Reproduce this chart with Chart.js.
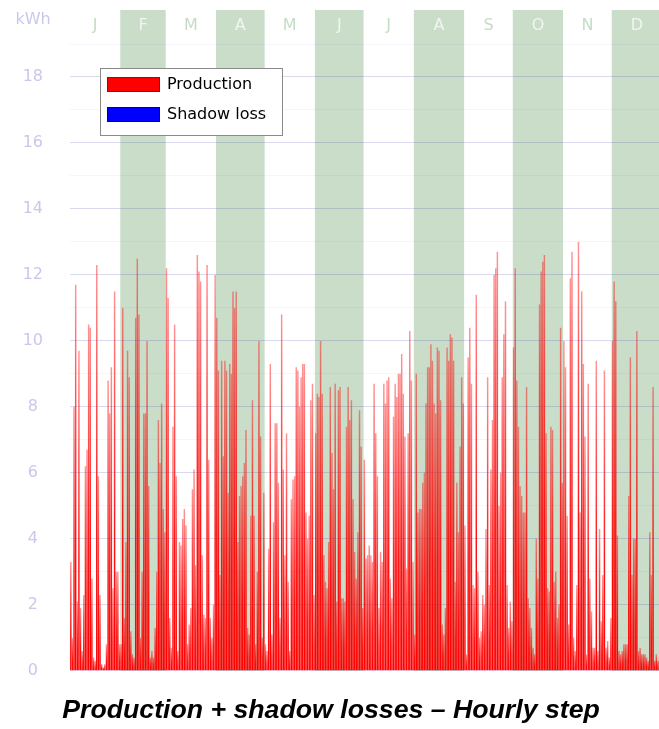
<!DOCTYPE html>
<html>
<head>
<meta charset="utf-8">
<script src="https://cdn.jsdelivr.net/npm/chart.js@4.4.1/dist/chart.umd.min.js"></script>
<style>
  html, body { margin: 0; padding: 0; overflow: hidden; background: #fff; }
  #wrap { width: 662px; height: 729px; position: relative; }
</style>
</head>
<body>
<div id="wrap"><canvas id="c"></canvas></div>
<script>
// Daily production peaks (kWh), one array per month
const jan = [3.3,1.0,8.0,11.7,2.1,9.7,1.9,0.6,2.3,6.2,6.7,10.5,10.4,2.8,0.4,0.3,12.3,5.9,2.3,0.2,0.1,0.2,0.8,8.8,7.8,9.2,2.5,11.5,3.0,3.0,0.8];
const feb = [0.8,11.0,1.6,3.9,9.7,8.9,1.2,0.5,0.4,10.7,12.5,10.8,1.0,3.0,7.8,7.8,10.0,5.6,0.4,0.6,0.4,1.3,3.0,7.6,6.3,8.1,4.9,4.2];
const mar = [12.2,11.3,1.6,0.7,7.4,10.5,5.9,0.6,3.9,3.8,4.6,4.9,4.4,0.8,1.4,1.9,5.5,6.1,3.2,12.6,12.1,11.8,3.5,1.7,1.6,12.3,6.4,1.6,1.0,2.0,12.0];
const apr = [10.7,9.1,2.9,9.4,6.5,9.4,9.1,5.4,9.3,9.0,11.5,11.0,11.5,3.9,5.3,5.6,5.9,6.3,7.3,1.3,1.1,4.7,8.2,4.7,0.8,3.0,10.0,7.1,1.0,5.4];
const may = [0.8,0.6,3.7,9.3,1.1,4.5,7.5,7.5,5.7,1.6,10.8,6.1,3.5,7.2,2.7,0.6,5.2,5.8,5.9,9.2,9.1,8.0,8.9,9.3,9.3,4.8,4.0,4.7,8.2,8.7,2.3];
const jun = [7.2,8.4,8.3,10.0,8.4,3.5,2.7,2.5,3.9,8.6,6.6,5.5,8.7,2.1,8.5,8.6,2.2,2.2,2.1,7.4,8.6,7.6,8.2,5.2,3.6,2.8,4.2,7.9,6.8,1.9];
const jul = [6.4,3.4,3.5,3.8,3.5,3.3,8.7,7.2,5.9,1.9,3.6,3.3,8.7,8.1,8.8,8.9,2.8,2.2,7.7,8.7,8.3,9.0,9.0,9.6,8.4,7.1,3.1,7.2,10.3,8.8,3.3];
const aug = [1.1,9.0,4.8,4.9,4.9,5.7,6.0,8.1,9.2,9.2,9.9,9.4,8.1,7.8,9.8,9.7,8.2,1.4,1.1,1.9,9.8,9.4,10.2,10.1,9.4,2.7,5.7,4.2,6.8,8.9,8.1];
const sep = [4.4,0.5,9.5,10.4,8.7,2.6,2.5,11.4,3.0,1.0,1.2,2.3,2.0,4.3,8.9,2.6,6.1,7.6,12.0,12.2,12.7,5.0,6.0,8.9,10.2,11.2,2.6,1.3,2.1,1.5];
const oct = [9.8,12.2,8.8,7.4,5.6,5.3,4.8,4.8,8.6,2.2,1.9,1.3,0.7,0.5,4.0,2.8,11.1,12.1,12.4,12.6,7.2,2.5,2.4,7.4,7.3,2.7,3.0,1.6,2.0,10.4,5.7];
const nov = [10.0,9.2,4.7,1.4,11.9,12.7,1.0,0.6,2.6,13.0,4.8,11.5,9.3,7.1,0.5,8.7,2.8,1.8,0.7,0.7,9.4,0.6,4.3,1.5,2.9,9.1,0.7,0.9,0.4,1.6];
const dec = [10.0,11.8,11.2,4.1,0.6,0.5,0.6,0.8,0.8,0.8,5.3,9.5,2.9,4.0,4.0,10.3,0.6,0.7,0.5,0.5,0.5,0.4,0.3,4.2,2.9,8.6,0.3,0.5,0.3,0.4,0.3];

// No shading losses occur in this simulation
const shadowLoss = [];

const monthLabels = ['J','F','M','A','M','J','J','A','S','O','N','D'];
const yTickValues = [0,2,4,6,8,10,12,14,16,18];
const yMax = 19;
const unitLabel = 'kWh';
const titleText = 'Production + shadow losses \u2013 Hourly step';
const seriesNames = ['Production', 'Shadow loss'];

const monthly = [jan, feb, mar, apr, may, jun, jul, aug, sep, oct, nov, dec];
const production = monthly.flat();
const dayIndex = production.map((_, i) => i);

const BAND = 'rgb(201,221,201)';
const TICK_COLOR = 'rgb(200,200,236)';

// Alternating month bands, month letters and the unit label
const bandsPlugin = {
  id: 'monthBands',
  beforeDraw(chart) {
    const { ctx, chartArea, scales } = chart;
    const x = scales.x;
    const slot = (x.right - x.left) / production.length;
    let start = 0;
    ctx.save();
    ctx.font = '16px "DejaVu Sans"';
    ctx.textAlign = 'center';
    ctx.textBaseline = 'middle';
    monthly.forEach((m, i) => {
      const x0 = x.left + start * slot;
      const x1 = x.left + (start + m.length) * slot;
      const shaded = i % 2 === 1;
      if (shaded) {
        ctx.fillStyle = BAND;
        ctx.fillRect(x0, 10, x1 - x0, chartArea.bottom - 10);
      }
      ctx.fillStyle = shaded ? 'rgb(240,246,240)' : 'rgb(198,220,198)';
      ctx.fillText(monthLabels[i], (x0 + x1) / 2, 26);
      start += m.length;
    });
    ctx.fillStyle = TICK_COLOR;
    ctx.fillText(unitLabel, 33, 20);
    ctx.restore();
  }
};

// Boxed legend inside the plot
const legendPlugin = {
  id: 'boxLegend',
  afterDraw(chart) {
    const { ctx } = chart;
    ctx.save();
    ctx.fillStyle = '#fff';
    ctx.fillRect(100.5, 68.5, 182, 67);
    ctx.strokeStyle = '#8a8a8a';
    ctx.lineWidth = 1;
    ctx.strokeRect(100.5, 68.5, 182, 67);
    const items = chart.data.datasets;
    ctx.font = '16px "DejaVu Sans"';
    ctx.textAlign = 'left';
    ctx.textBaseline = 'middle';
    items.forEach((ds, i) => {
      const y = 77.5 + i * 30;
      ctx.fillStyle = ds.legendColor;
      ctx.fillRect(107.5, y, 52, 14);
      ctx.strokeStyle = ds.legendBorder;
      ctx.strokeRect(107.5, y, 52, 14);
      ctx.fillStyle = '#000';
      ctx.fillText(ds.label, 167, y + 7.5);
    });
    ctx.restore();
  }
};

function barFill(context) {
  const chart = context.chart;
  if (!chart.chartArea) return 'rgba(255,0,0,0.7)';
  const y = chart.scales.y;
  const v = context.raw || 0;
  const bottom = y.getPixelForValue(0);
  const top = y.getPixelForValue(v);
  if (bottom - top < 1) return 'rgba(255,0,0,1)';
  const g = chart.ctx.createLinearGradient(0, bottom, 0, top);
  g.addColorStop(0, 'rgba(255,0,0,1)');
  g.addColorStop(0.35, 'rgba(255,0,0,0.92)');
  g.addColorStop(0.7, 'rgba(255,0,0,0.68)');
  g.addColorStop(1, 'rgba(255,0,0,0.42)');
  return g;
}

new Chart(document.getElementById('c'), {
  type: 'bar',
  data: {
    labels: dayIndex,
    datasets: [
      {
        label: seriesNames[0],
        data: production,
        backgroundColor: barFill,
        borderWidth: 0,
        barPercentage: 0.9,
        categoryPercentage: 1.0,
        grouped: false,
        legendColor: '#ff0000',
        legendBorder: '#b40000'
      },
      {
        label: seriesNames[1],
        data: shadowLoss,
        backgroundColor: '#0000ff',
        borderWidth: 0,
        barPercentage: 0.9,
        categoryPercentage: 1.0,
        grouped: false,
        legendColor: '#0000ff',
        legendBorder: '#0000a0'
      }
    ]
  },
  options: {
    responsive: true,
    maintainAspectRatio: false,
    animation: false,
    layout: { padding: { top: 44, left: 0, right: 0, bottom: 0 } },
    scales: {
      x: { display: false },
      y: {
        min: 0,
        max: yMax,
        afterFit(scale) { scale.width = 70; },
        afterBuildTicks(scale) {
          scale.ticks = [];
          for (let v = 0; v <= yMax; v++) scale.ticks.push({ value: v });
        },
        ticks: {
          autoSkip: false,
          padding: 27,
          crossAlign: 'center',
          color: TICK_COLOR,
          font: { family: 'DejaVu Sans', size: 16 },
          callback: (v) => (yTickValues.includes(v) ? String(v) : '')
        },
        grid: {
          drawTicks: false,
          color: (c) => (c.tick && c.tick.value % 2 === 0 ? 'rgba(70,70,175,0.2)' : 'rgba(120,120,210,0.07)'),
          lineWidth: 1
        },
        border: { display: false }
      }
    },
    plugins: {
      legend: { display: false },
      tooltip: { enabled: false },
      title: {
        display: true,
        position: 'bottom',
        text: titleText,
        color: '#000',
        font: { family: 'Liberation Sans', size: 26.7, weight: 'bold', style: 'italic' },
        padding: { top: 23.5, bottom: 2.7 }
      }
    }
  },
  plugins: [bandsPlugin, legendPlugin]
});
</script>
</body>
</html>
